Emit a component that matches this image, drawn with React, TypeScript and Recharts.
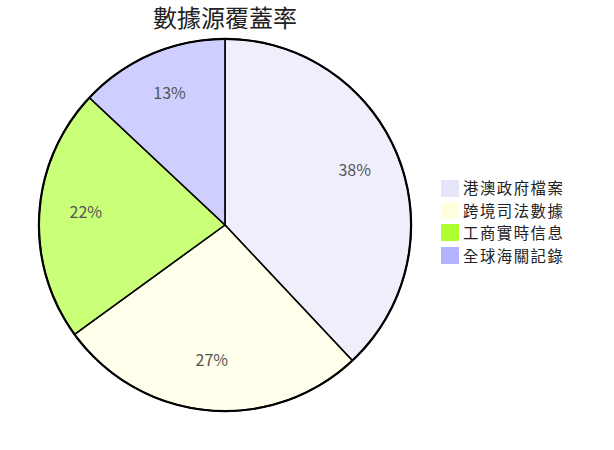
import React from "react";
import { Pie, PieChart, Cell } from "recharts";

const categories = ["港澳政府檔案", "跨境司法數據", "工商實時信息", "全球海關記錄"];
const shares = [38, 27, 22, 13];
const COLORS = ["#e6e6fa", "#ffffe0", "#adff2f", "#b3b3ff"];

const data = categories.map((name, i) => ({ name, value: shares[i] }));
const RADIAN = Math.PI / 180;
const FONT = "'Noto Sans CJK TC', 'Noto Sans', sans-serif";

const renderLabel = (props: any) => {
  const { cx, cy, midAngle, outerRadius, value } = props;
  const r = outerRadius * 0.75;
  const x = cx + r * Math.cos(-midAngle * RADIAN);
  const y = cy + r * Math.sin(-midAngle * RADIAN) - 5;
  return (
    <text
      x={x}
      y={y}
      fill="#555"
      fontSize={16}
      textAnchor="middle"
      dominantBaseline="central"
      fontFamily={FONT}
    >
      {`${value}%`}
    </text>
  );
};

export default function App() {
  return (
    <div style={{ position: "absolute", left: 0, top: 0, width: 614, height: 450, background: "#fff" }}>
      <div
        style={{
          position: "absolute",
          left: 0,
          width: 450,
          top: 0,
          height: 34,
          lineHeight: "34px",
          textAlign: "center",
          fontFamily: FONT,
          fontSize: 24,
          color: "#222",
        }}
      >
        數據源覆蓋率
      </div>
      <PieChart width={614} height={450} margin={{ top: 0, right: 0, bottom: 0, left: 0 }}>
        <Pie
          data={data}
          dataKey="value"
          nameKey="name"
          cx={225}
          cy={225}
          outerRadius={186}
          startAngle={90}
          endAngle={-270}
          stroke="#000"
          strokeWidth={1.5}
          label={renderLabel}
          labelLine={false}
          isAnimationActive={false}
        >
          {data.map((d, i) => (
            <Cell key={d.name} fill={COLORS[i]} fillOpacity={0.65} />
          ))}
        </Pie>
        <Pie
          data={[{ name: "border", value: 1 }]}
          dataKey="value"
          cx={225}
          cy={225}
          innerRadius={185}
          outerRadius={187.2}
          fill="#000"
          stroke="none"
          isAnimationActive={false}
          legendType="none"
        />
      </PieChart>
      <div
        style={{
          position: "absolute",
          left: 441,
          top: 177,
          fontFamily: FONT,
          fontSize: 15.4,
          letterSpacing: 1.5,
          color: "#222",
        }}
      >
        {categories.map((c, i) => (
          <div key={c} style={{ display: "flex", alignItems: "center", height: 22.4 }}>
            <span
              style={{
                display: "inline-block",
                width: 18,
                height: 17,
                background: COLORS[i],
                marginRight: 4,
              }}
            />
            <span style={{ lineHeight: 1 }}>{c}</span>
          </div>
        ))}
      </div>
    </div>
  );
}
